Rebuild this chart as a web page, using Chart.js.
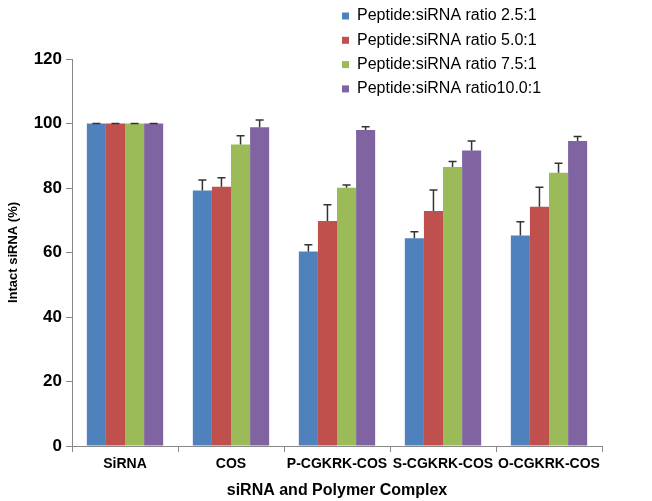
<!DOCTYPE html>
<html><head><meta charset="utf-8">
<script src="https://cdn.jsdelivr.net/npm/chart.js@4"></script>
<style>html,body{margin:0;padding:0;background:#fff}#wrap{width:652px;height:501px}</style>
</head><body><div id="wrap"><canvas id="c"></canvas></div>
<script>
const categories = ["SiRNA","COS","P-CGKRK-COS","S-CGKRK-COS","O-CGKRK-COS"];
const seriesNames = ["Peptide:siRNA ratio 2.5:1","Peptide:siRNA ratio 5.0:1","Peptide:siRNA ratio 7.5:1","Peptide:siRNA ratio10.0:1"];
const ratio25 = [100, 79.2, 60.3, 64.4, 65.3];
const ratio50 = [100, 80.4, 69.8, 72.9, 74.2];
const ratio75 = [100, 93.5, 80.1, 86.5, 84.7];
const ratio100 = [100, 98.8, 98.0, 91.6, 94.6];
const err25 = [0, 3.3, 2.1, 2.0, 4.2];
const err50 = [0, 2.8, 5.0, 6.5, 6.0];
const err75 = [0, 2.7, 0.8, 1.7, 3.0];
const err100 = [0, 2.3, 1.0, 3.0, 1.4];
const yTicks = [0,20,40,60,80,100,120];
const colors = ["#4F81BD","#C0504D","#9BBB59","#8064A2"];

const values = [ratio25, ratio50, ratio75, ratio100];
const errs = [err25, err50, err75, err100];

const errorBars = {
  id: 'errorBars',
  afterDatasetsDraw(chart) {
    const ctx = chart.ctx, y = chart.scales.y;
    ctx.save();
    ctx.strokeStyle = '#333';
    ctx.lineWidth = 1.5;
    chart.data.datasets.forEach((ds, i) => {
      const meta = chart.getDatasetMeta(i);
      meta.data.forEach((bar, j) => {
        const v = ds.data[j], e = ds.err[j];
        const x = bar.x;
        const y0 = y.getPixelForValue(v), y1 = y.getPixelForValue(v + e);
        ctx.beginPath();
        ctx.moveTo(x, y0); ctx.lineTo(x, y1);
        ctx.moveTo(x - 4, y1); ctx.lineTo(x + 4, y1);
        ctx.stroke();
      });
    });
    ctx.restore();
  }
};

const customLegend = {
  id: 'customLegend',
  afterDraw(chart) {
    const ctx = chart.ctx;
    ctx.save();
    ctx.font = '16px "Liberation Sans", Arial, sans-serif';
    ctx.textBaseline = 'middle';
    chart.data.datasets.forEach((ds, i) => {
      const yy = 16 + i * 24.3;
      ctx.fillStyle = ds.backgroundColor;
      ctx.fillRect(342, yy - 3.5, 7, 7);
      ctx.fillStyle = '#000';
      ctx.fillText(ds.label, 357, yy);
    });
    ctx.restore();
  }
};

new Chart(document.getElementById('c'), {
  type: 'bar',
  data: {
    labels: categories,
    datasets: seriesNames.map((n, i) => ({
      label: n, data: values[i], err: errs[i],
      backgroundColor: colors[i], borderWidth: 0,
      categoryPercentage: 0.72, barPercentage: 1.0
    }))
  },
  options: {
    responsive: true, maintainAspectRatio: false, animation: false,
    layout: { padding: { top: 59, right: 50, left: 0, bottom: 0 } },
    plugins: { legend: { display: false }, tooltip: { enabled: false } },
    scales: {
      x: {
        afterFit(s) { s.height = 55; },
        grid: { display: true, drawOnChartArea: false, drawTicks: true, tickLength: 6, offset: true, color: '#888' },
        border: { display: true, color: '#888', width: 1 },
        ticks: { color: '#000', font: { family: '"Liberation Sans", Arial, sans-serif', size: 14, weight: 'bold' }, padding: 4, maxRotation: 0, autoSkip: false },
        title: { display: true, text: 'siRNA and Polymer Complex', color: '#000', font: { family: '"Liberation Sans", Arial, sans-serif', size: 16, weight: 'bold' }, padding: { top: 11, bottom: 1 } }
      },
      y: {
        min: 0, max: 120,
        afterFit(s) { s.width = 72; },
        afterBuildTicks(s) { s.ticks = yTicks.map(v => ({ value: v })); },
        grid: { display: true, drawOnChartArea: false, drawTicks: true, tickLength: 6, color: '#888' },
        border: { display: true, color: '#888', width: 1 },
        ticks: { color: '#000', font: { family: '"Liberation Sans", Arial, sans-serif', size: 17, weight: 'bold' }, padding: 4 },
        title: { display: true, text: 'Intact siRNA (%)', color: '#000', font: { family: '"Liberation Sans", Arial, sans-serif', size: 13, weight: 'bold' }, padding: { top: 6, bottom: 0 } }
      }
    }
  },
  plugins: [errorBars, customLegend]
});
</script></body></html>
